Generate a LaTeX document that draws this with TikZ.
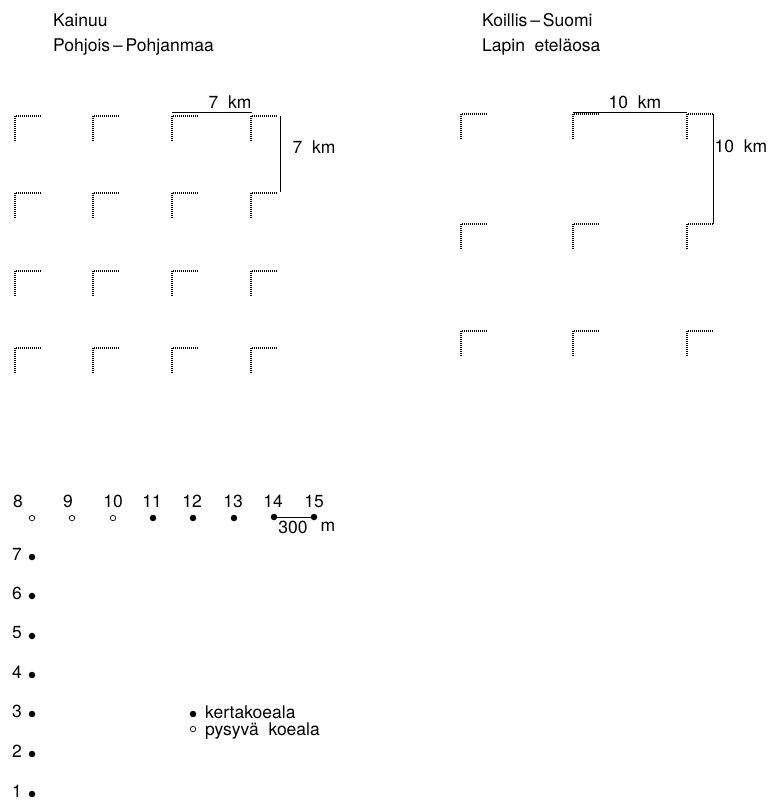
\documentclass[tikz,border=0pt]{standalone}
\usepackage{fontspec}
\setmainfont{TeX Gyre Heros}
\usetikzlibrary{positioning}

\begin{document}
\begin{tikzpicture}[x=1pt,y=-1pt,
		corner/.style={line width=1.8pt,dash pattern=on 0.9pt off 1.1pt},
		measure/.style={line width=0.7pt},
		lbl/.style={font=\fontsize{17.5}{20}\selectfont,inner sep=0pt},
		fdot/.style={circle,fill,inner sep=0pt,minimum size=6.5pt},
		odot/.style={circle,draw,line width=0.7pt,inner sep=0pt,minimum size=5.5pt}]
			\useasboundingbox (0,0) rectangle (771,801);
			
			% otsikot
			\node[lbl,anchor=base west] (kainuu) at (53,26) {Kainuu};
			\node[lbl,anchor=base west] (pohjois) at (53,51) {Pohjois\,--\,Pohjanmaa};
			\node[lbl,anchor=base west] (koillis) at (482,26) {Koillis\,--\,Suomi};
			\node[lbl,anchor=base west] (lappi) at (482,51) {Lapin\ \ eteläosa};
			
			% vasen ruudukko
			\foreach \x in {15,93,172,251}
			\foreach \y in {116,193,271,348}
			\draw[corner] (\x,\y+25) -- (\x,\y) -- (\x+26,\y);
			
			\draw[measure] (172,112) -- (252,112);
			\node[lbl] (vali7) at (230,102) {7\ \ km};
			\draw[measure] (280,116) -- (280,192);
			\node[lbl] (syv7) at (314,147) {7\ \ km};
			
			% oikea ruudukko
			\foreach \x in {461,573,687}
			\foreach \y in {114,224,331}
			\draw[corner] (\x,\y+25) -- (\x,\y) -- (\x+26,\y);
			
			\draw[measure] (573,112) -- (687,112);
			\node[lbl] (vali10) at (635,102) {10\ \ km};
			\draw[measure] (713,114) -- (713,224);
			\node[lbl] (syv10) at (741,146) {10\ \ km};
			
			% koealat
			\node[lbl] (n8) at (18,501) {8};
			\node[lbl] (n9) at (68,501) {9};
			\node[lbl] (n10) at (113,501) {10};
			\node[lbl] (n11) at (152,501) {11};
			\node[lbl] (n12) at (192,501) {12};
			\node[lbl] (n13) at (233,501) {13};
			\node[lbl] (n14) at (273,501) {14};
			\node[lbl] (n15) at (314,501) {15};
			
			\node[odot] (p8) at (32,518) {};
			\node[odot] (p9) at (72,518) {};
			\node[odot] (p10) at (113,518) {};
			\node[fdot] (p11) at (153,518) {};
			\node[fdot] (p12) at (193,518) {};
			\node[fdot] (p13) at (234,518) {};
			\node[fdot] (p14) at (274,517) {};
			\node[fdot] (p15) at (314,517) {};
			
			\draw[measure] (p14) -- (p15);
			\node[lbl] (m300) at (293,527) {300};
			\node[lbl] (metri) at (328,527) {m};
			
			\foreach \i/\y in {7/557,6/596,5/636,4/675,3/714,2/754,1/794} {
				\node[lbl] (n\i) at (17,\y-3) {\i};
				\node[fdot] (p\i) at (32,\y) {};
			}
			
			% selite
			\node[fdot] (kerta) at (193,714) {};
			\node[lbl,anchor=base west] (kertateksti) at (205,718) {kertakoeala};
			\node[odot] (pysyva) at (193,729) {};
			\node[lbl,anchor=base west] (pysyvateksti) at (205,735) {pysyvä\ \ koeala};
		\end{tikzpicture}
\end{document}
